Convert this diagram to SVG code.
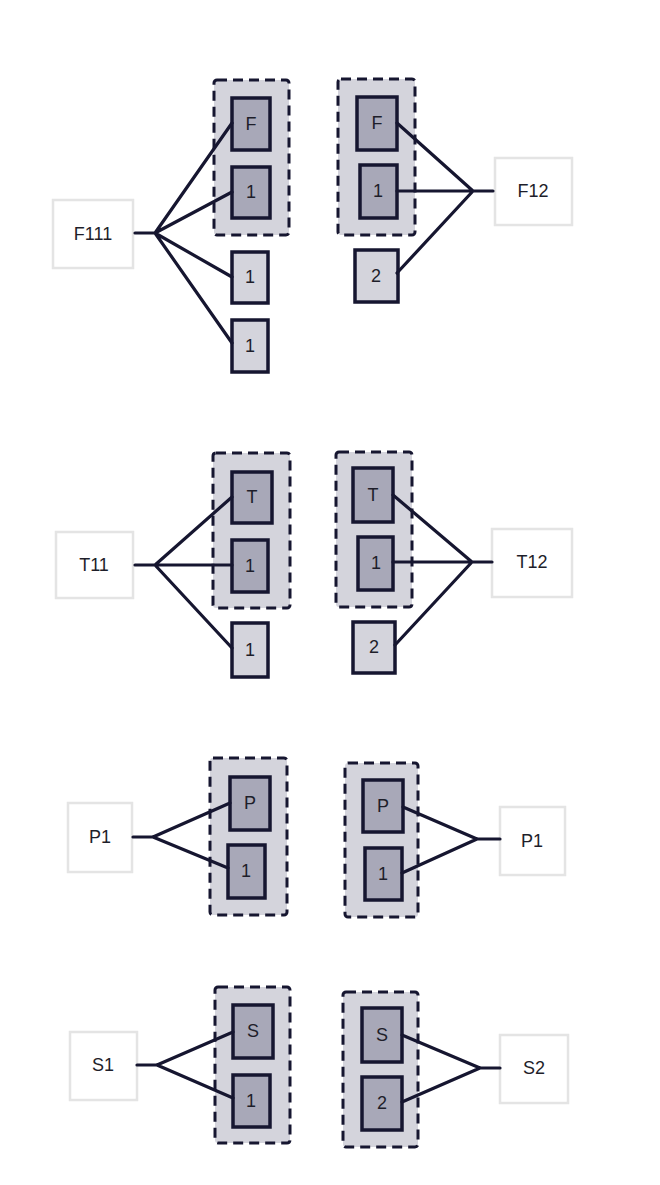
<svg xmlns="http://www.w3.org/2000/svg" width="660" height="1185" viewBox="0 0 660 1185">
<style>
.bg{fill:#ffffff}
.grp{fill:#d4d4dc;stroke:#161630;stroke-width:3;stroke-dasharray:10 6}
.inner{fill:#a8a8b8;stroke:#161630;stroke-width:3.5}
.lone{fill:#d4d4dc;stroke:#161630;stroke-width:3.5}
.lbl{fill:#ffffff;stroke:#e4e4e4;stroke-width:2.5}
.t{font-family:"Liberation Sans","DejaVu Sans",sans-serif;font-size:18px;fill:#1e1e2a;text-anchor:middle;dominant-baseline:central}
.c{fill:none;stroke:#161630;stroke-width:3.2;stroke-linecap:round;stroke-linejoin:round}
</style>
<rect class="bg" x="0" y="0" width="660" height="1185"/>

<!-- Section F -->
<g id="grp-f-left"><rect class="grp" x="214" y="80" width="75" height="155" rx="3"/></g>
<g id="n-f111"><rect class="lbl" x="53" y="200" width="80" height="68"/><text class="t" x="93" y="234">F111</text></g>
<g id="n-fl-f"><rect class="inner" x="232" y="98" width="38" height="52"/><text class="t" x="251" y="124">F</text></g>
<g id="n-fl-1"><rect class="inner" x="232" y="167" width="38" height="51"/><text class="t" x="251" y="192">1</text></g>
<g id="n-fl-1b"><rect class="lone" x="232" y="252" width="36" height="51"/><text class="t" x="250" y="277">1</text></g>
<g id="n-fl-1c"><rect class="lone" x="232" y="320" width="36" height="52"/><text class="t" x="250" y="346">1</text></g>

<g id="grp-f-right"><rect class="grp" x="338" y="79" width="77" height="156" rx="3"/></g>
<g id="n-f12"><rect class="lbl" x="495" y="158" width="77" height="67"/><text class="t" x="533" y="191">F12</text></g>
<g id="n-fr-f"><rect class="inner" x="357" y="97" width="40" height="53"/><text class="t" x="377" y="123">F</text></g>
<g id="n-fr-1"><rect class="inner" x="360" y="165" width="37" height="53"/><text class="t" x="378" y="191">1</text></g>
<g id="n-fr-2"><rect class="lone" x="355" y="250" width="43" height="52"/><text class="t" x="376" y="276">2</text></g>

<!-- Section T -->
<g id="grp-t-left"><rect class="grp" x="213" y="453" width="77" height="155" rx="3"/></g>
<g id="n-t11"><rect class="lbl" x="56" y="532" width="77" height="66"/><text class="t" x="94" y="565">T11</text></g>
<g id="n-tl-t"><rect class="inner" x="232" y="472" width="40" height="51"/><text class="t" x="252" y="497">T</text></g>
<g id="n-tl-1"><rect class="inner" x="232" y="540" width="36" height="52"/><text class="t" x="250" y="566">1</text></g>
<g id="n-tl-1b"><rect class="lone" x="232" y="623" width="36" height="54"/><text class="t" x="250" y="650">1</text></g>

<g id="grp-t-right"><rect class="grp" x="336" y="452" width="76" height="155" rx="3"/></g>
<g id="n-t12"><rect class="lbl" x="492" y="529" width="80" height="68"/><text class="t" x="532" y="562">T12</text></g>
<g id="n-tr-t"><rect class="inner" x="353" y="468" width="40" height="54"/><text class="t" x="373" y="495">T</text></g>
<g id="n-tr-1"><rect class="inner" x="358" y="537" width="35" height="53"/><text class="t" x="376" y="563">1</text></g>
<g id="n-tr-2"><rect class="lone" x="353" y="622" width="42" height="51"/><text class="t" x="374" y="647">2</text></g>

<!-- Section P -->
<g id="grp-p-left"><rect class="grp" x="210" y="758" width="77" height="157" rx="3"/></g>
<g id="n-p1-left"><rect class="lbl" x="68" y="803" width="64" height="69"/><text class="t" x="100" y="837">P1</text></g>
<g id="n-pl-p"><rect class="inner" x="230" y="777" width="40" height="53"/><text class="t" x="250" y="803">P</text></g>
<g id="n-pl-1"><rect class="inner" x="228" y="845" width="37" height="53"/><text class="t" x="246" y="871">1</text></g>

<g id="grp-p-right"><rect class="grp" x="345" y="763" width="73" height="154" rx="3"/></g>
<g id="n-p1-right"><rect class="lbl" x="500" y="807" width="65" height="68"/><text class="t" x="532" y="841">P1</text></g>
<g id="n-pr-p"><rect class="inner" x="363" y="780" width="40" height="52"/><text class="t" x="383" y="806">P</text></g>
<g id="n-pr-1"><rect class="inner" x="365" y="848" width="37" height="52"/><text class="t" x="383" y="874">1</text></g>

<!-- Section S -->
<g id="grp-s-left"><rect class="grp" x="215" y="987" width="75" height="156" rx="3"/></g>
<g id="n-s1"><rect class="lbl" x="70" y="1032" width="67" height="68"/><text class="t" x="103" y="1065">S1</text></g>
<g id="n-sl-s"><rect class="inner" x="233" y="1005" width="40" height="53"/><text class="t" x="253" y="1031">S</text></g>
<g id="n-sl-1"><rect class="inner" x="233" y="1075" width="37" height="52"/><text class="t" x="251" y="1101">1</text></g>

<g id="grp-s-right"><rect class="grp" x="343" y="992" width="75" height="155" rx="3"/></g>
<g id="n-s2"><rect class="lbl" x="500" y="1035" width="68" height="68"/><text class="t" x="534" y="1068">S2</text></g>
<g id="n-sr-s"><rect class="inner" x="362" y="1008" width="40" height="54"/><text class="t" x="382" y="1035">S</text></g>
<g id="n-sr-2"><rect class="inner" x="362" y="1077" width="40" height="53"/><text class="t" x="382" y="1103">2</text></g>

<g id="connectors">
<path class="c" d="M135 233 H155 L232 123 M155 233 L232 192 M155 233 L232 277 M155 233 L232 343"/>
<path class="c" d="M493 191 H473 L397 123 M473 191 L397 191 M473 191 L397 273"/>
<path class="c" d="M135 565 H155 L232 497 M155 565 L232 565 M155 565 L232 648"/>
<path class="c" d="M492 562 H472 L393 495 M472 562 L393 562 M472 562 L395 645"/>
<path class="c" d="M133 837 H153 L230 803 M153 837 L228 868"/>
<path class="c" d="M500 839 H477 L403 807 M477 839 L402 873"/>
<path class="c" d="M137 1065 H157 L233 1032 M157 1065 L233 1098"/>
<path class="c" d="M500 1068 H480 L402 1035 M480 1068 L402 1102"/>
</g>
</svg>
